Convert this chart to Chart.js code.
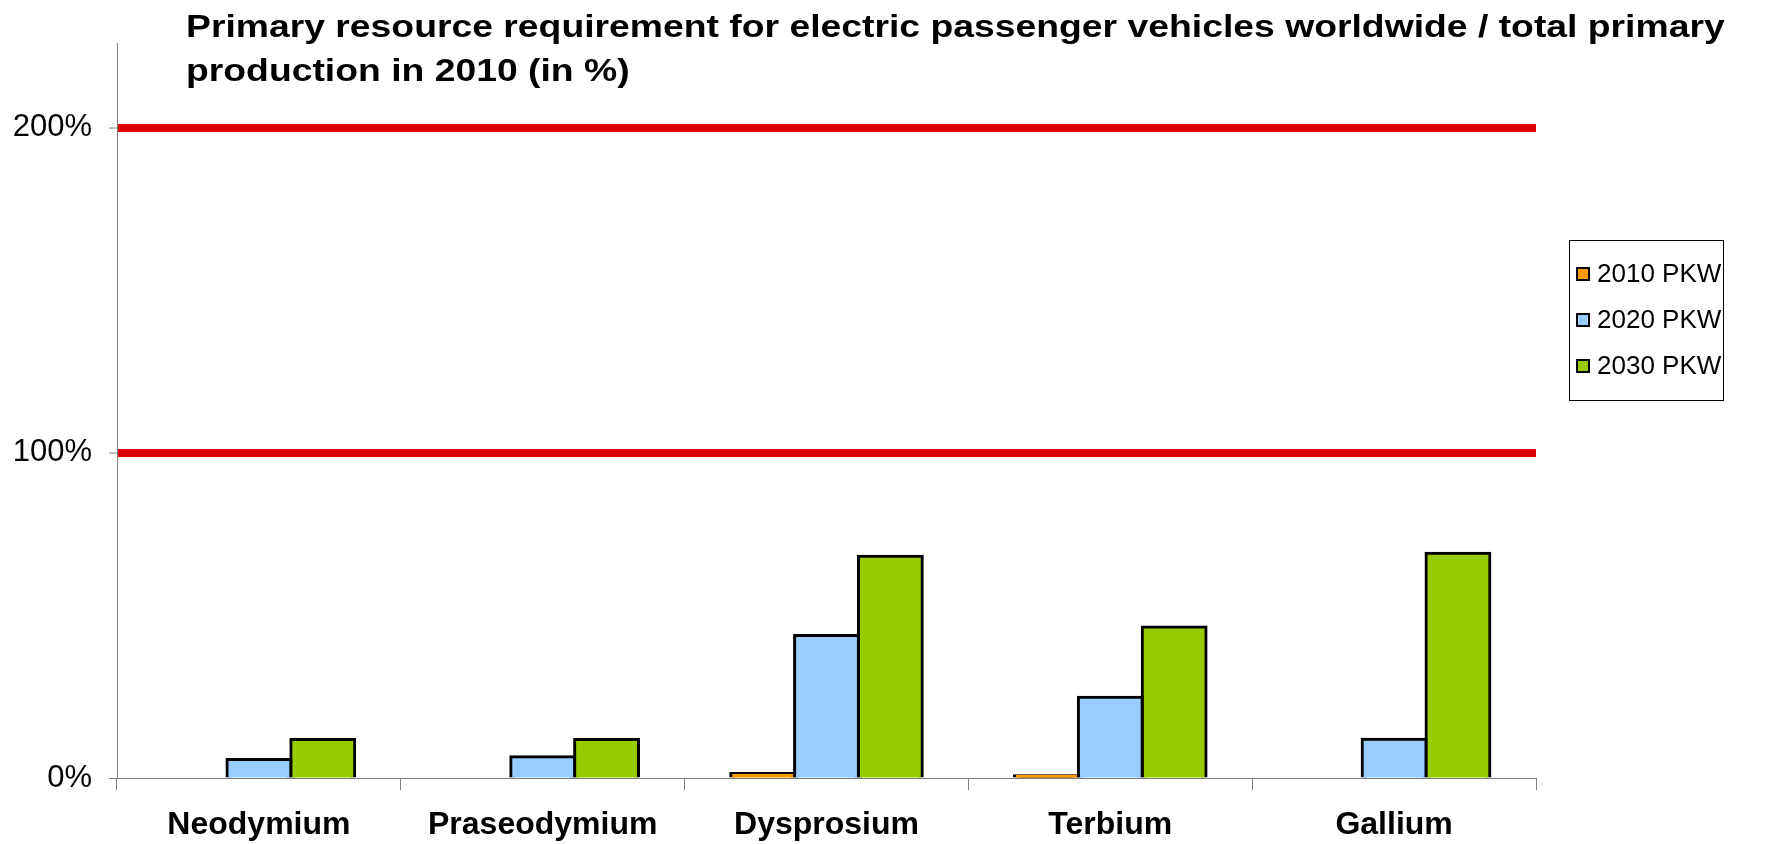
<!DOCTYPE html>
<html>
<head>
<meta charset="utf-8">
<script src="https://cdn.jsdelivr.net/npm/chart.js@4"></script>
<style>
  html, body { margin: 0; padding: 0; background: #fff; }
  #wrap { width: 1766px; height: 844px; }
</style>
</head>
<body>
<div id="wrap"><canvas id="chart" width="1766" height="844"></canvas></div>
<script>
// data (values in %)
const categories = ["Neodymium", "Praseodymium", "Dysprosium", "Terbium", "Gallium"];
const seriesNames = ["2010 PKW", "2020 PKW", "2030 PKW"];
const pkw2010 = [null, null, 1.4, 0.7, null];
const pkw2020 = [5.7, 6.5, 43.8, 24.8, 11.9];
const pkw2030 = [11.8, 11.8, 68.2, 46.4, 69.1];
const yTicks = [0, 100, 200];
const refLines = [100, 200];
const titleLines = [
  "Primary resource requirement for electric passenger vehicles worldwide / total primary",
  "production in 2010 (in %)"
];

const colors = ["#ff9900", "#99ccff", "#99cc00"];
const FONT = "'Liberation Sans', Arial, sans-serif";
Chart.defaults.font.family = FONT;
Chart.defaults.color = "#000";

// title drawn over the top left, like the original (it overlaps the plot's top band)
// the original lettering is a bit stretched sideways, hence the scale
const titlePlugin = {
  id: "titleText",
  afterDraw(chart) {
    const ctx = chart.ctx;
    ctx.save();
    ctx.font = "bold 32px " + FONT;
    ctx.fillStyle = "#000";
    ctx.textBaseline = "alphabetic";
    ctx.textAlign = "left";
    ctx.translate(186, 0);
    ctx.scale(1.166, 1);
    titleLines.forEach((t, i) => ctx.fillText(t, 0, 37 + i * 44));
    ctx.restore();
  }
};

// boxed legend at the right
const boxLegend = {
  id: "boxLegend",
  afterDraw(chart) {
    const ctx = chart.ctx;
    ctx.save();
    ctx.strokeStyle = "#000";
    ctx.lineWidth = 1;
    ctx.strokeRect(1569.5, 240.5, 154, 160);
    ctx.font = "26px " + FONT;
    ctx.textBaseline = "middle";
    chart.data.datasets.forEach((ds, i) => {
      const y = 274 + i * 46;
      ctx.fillStyle = ds.backgroundColor;
      ctx.fillRect(1577, y - 6, 12, 12);
      ctx.lineWidth = 2;
      ctx.strokeStyle = "#000";
      ctx.strokeRect(1577, y - 6, 12, 12);
      ctx.fillStyle = "#000";
      ctx.fillText(ds.label, 1597, y + 1);
    });
    ctx.restore();
  }
};

const seriesData = [pkw2010, pkw2020, pkw2030];

new Chart(document.getElementById("chart").getContext("2d"), {
  type: "bar",
  data: {
    labels: categories,
    datasets: seriesNames.map((name, i) => ({
      label: name,
      data: seriesData[i],
      backgroundColor: colors[i],
      borderColor: "#000",
      borderWidth: 3,
      inflateAmount: 1.5, // excel puts the outline on the edge, not inside
      categoryPercentage: 0.675,
      barPercentage: 1.0
    }))
  },
  options: {
    responsive: false,
    animation: false,
    layout: { padding: { left: 0, top: 43, right: 230, bottom: 0 } },
    plugins: {
      legend: { display: false },
      title: { display: false },
      tooltip: { enabled: false }
    },
    scales: {
      x: {
        afterFit: s => { s.height = 66; },
        ticks: {
          font: { size: 32, weight: "bold" },
          color: "#000",
          padding: 16,
          maxRotation: 0,
          autoSkip: false
        },
        grid: {
          drawOnChartArea: false,
          drawTicks: true,
          tickLength: 12,
          tickColor: "#808080",
          color: "#808080"
        },
        border: { display: true, color: "#808080", width: 1 }
      },
      y: {
        min: 0,
        max: 226,
        afterFit: s => { s.width = 117; },
        afterBuildTicks: s => { s.ticks = yTicks.map(v => ({ value: v })); },
        ticks: {
          font: { size: 31 },
          color: "#000",
          padding: 17,
          callback: v => v + "%"
        },
        grid: {
          color: c => refLines.includes(c.tick.value) ? "#de0000" : "rgba(0,0,0,0)",
          lineWidth: c => refLines.includes(c.tick.value) ? 8 : 1,
          tickColor: "#808080",
          tickWidth: 1,
          tickLength: 8
        },
        border: { display: true, color: "#808080", width: 1 }
      }
    }
  },
  plugins: [titlePlugin, boxLegend]
});
</script>
</body>
</html>
